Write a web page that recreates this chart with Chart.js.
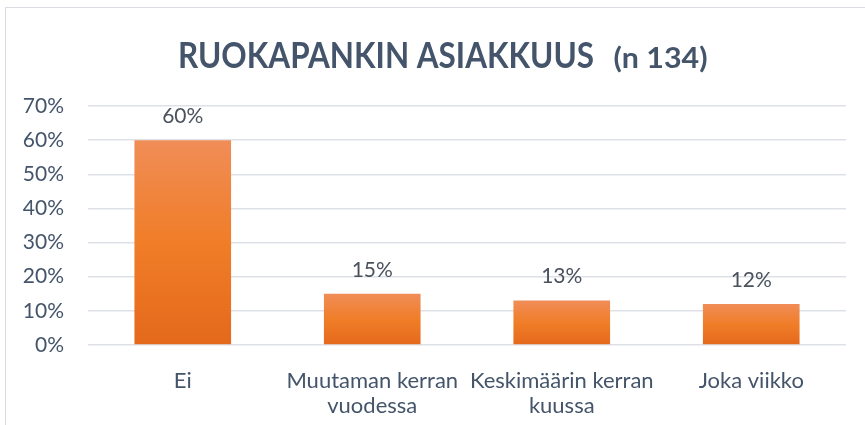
<!DOCTYPE html>
<html>
<head>
<meta charset="utf-8">
<script src="https://cdn.jsdelivr.net/npm/chart.js@4/dist/chart.umd.min.js"></script>
<style>
  body { margin: 0; background: #fff; overflow: hidden; }
  #frame { position: absolute; left: 5px; top: 7px; width: 870px; height: 430px;
           border: 1.5px solid #d9dde3; box-sizing: border-box; }
  #wrap { position: absolute; left: 0; top: 0; width: 868px; height: 418px; }
</style>
</head>
<body>
<div id="frame"><div id="wrap"><canvas id="c"></canvas></div></div>
<script>
const categories = ['Ei', ['Muutaman kerran', 'vuodessa'], ['Keskimäärin kerran', 'kuussa'], 'Joka viikko'];
const values = [60, 15, 13, 12];
const yTicks = [0, 10, 20, 30, 40, 50, 60, 70];

const FONT = 'Lato, "Open Sans", sans-serif';
const textColor = '#44546A';

function barGradient(ctx) {
  let chart = ctx.chart;
  let y = chart.scales.y;
  if (!chart.chartArea || !y) return '#ef7b2c';
  let top = y.getPixelForValue(values[ctx.dataIndex]);
  let bottom = y.getPixelForValue(0);
  let g = chart.ctx.createLinearGradient(0, top, 0, bottom);
  g.addColorStop(0, '#f08d57');
  g.addColorStop(0.5, '#f07d28');
  g.addColorStop(1, '#e4691b');
  return g;
}

// title with two font sizes, squeezed a bit to get the Calibri look
const titlePlugin = {
  id: 'mixedTitle',
  afterDraw(chart) {
    let c = chart.ctx;
    let t1 = 'RUOKAPANKIN ASIAKKUUS';
    let t2 = '(n 134)';
    c.save();
    c.fillStyle = textColor;
    c.textBaseline = 'alphabetic';
    c.font = 'bold 36px ' + FONT;
    let s1 = 416 / c.measureText(t1).width;
    c.save();
    c.translate(172, 60);
    c.scale(s1, 1);
    c.fillText(t1, 0, 0);
    c.restore();
    c.font = 'bold 28px ' + FONT;
    let s2 = 94 / c.measureText(t2).width;
    c.translate(607.5, 60);
    c.scale(s2, 1);
    c.fillText(t2, 0, 0);
    c.restore();
  }
};

const valueLabels = {
  id: 'valueLabels',
  afterDatasetsDraw(chart) {
    let c = chart.ctx;
    let meta = chart.getDatasetMeta(0);
    c.save();
    c.font = '21px ' + FONT;
    c.fillStyle = '#4a525e';
    c.textAlign = 'center';
    c.textBaseline = 'middle';
    meta.data.forEach((bar, i) => {
      c.fillText(values[i] + '%', bar.x, bar.y - 24);
    });
    c.restore();
  }
};

new Chart(document.getElementById('c'), {
  type: 'bar',
  data: {
    labels: categories,
    datasets: [{
      data: values,
      backgroundColor: barGradient,
      borderWidth: 0,
      categoryPercentage: 1,
      barPercentage: 0.51
    }]
  },
  options: {
    responsive: true,
    maintainAspectRatio: false,
    animation: false,
    layout: { padding: { top: 98, right: 28, bottom: 0, left: 0 } },
    plugins: {
      legend: { display: false },
      tooltip: { enabled: false }
    },
    scales: {
      x: {
        grid: { display: false, drawTicks: false },
        border: { display: false },
        ticks: {
          color: textColor,
          font: { family: FONT, size: 22, lineHeight: 1.15 },
          padding: 23,
          maxRotation: 0,
          autoSkip: false
        },
        afterFit(scale) { scale.height = 81; }
      },
      y: {
        min: 0,
        max: 70,
        afterBuildTicks(scale) { scale.ticks = yTicks.map(v => ({ value: v })); },
        grid: { color: '#dde1e7', lineWidth: 1.5, drawTicks: false },
        border: { display: false },
        ticks: {
          color: textColor,
          font: { family: FONT, size: 21 },
          padding: 24,
          callback: v => v + '%'
        },
        afterFit(scale) { scale.width = 82; }
      }
    }
  },
  plugins: [titlePlugin, valueLabels]
});
</script>
</body>
</html>
